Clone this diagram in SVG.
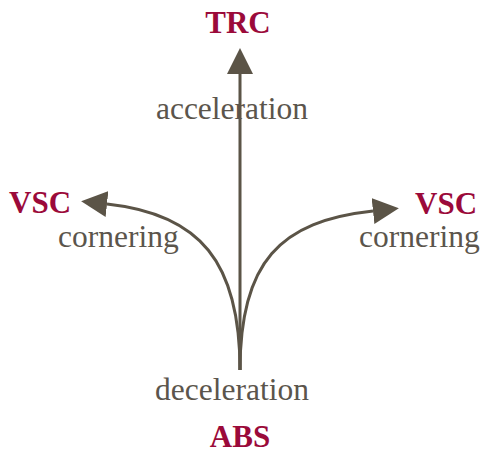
<svg xmlns="http://www.w3.org/2000/svg" width="482" height="452" viewBox="0 0 482 452">
  <style>
    .sys { font-family: "Liberation Serif", "Times New Roman", serif; font-size: 31px; font-weight: bold; fill: #9b0a3a; }
    .lbl { font-family: "Liberation Serif", "Times New Roman", serif; font-size: 31.5px; fill: #5b554c; }
    .edge { fill: none; stroke: #5b5447; stroke-width: 3; }
  </style>
  <defs>
    <marker id="head" viewBox="0 0 26 26" refX="0" refY="13" markerWidth="26" markerHeight="26" markerUnits="userSpaceOnUse" orient="auto">
      <path d="M0,0 L26,13 L0,26 z" fill="#5b5447"/>
    </marker>
  </defs>
  <rect width="482" height="452" fill="#ffffff"/>

  <g id="connectors">
    <path class="edge" d="M240,370 L240,74" marker-end="url(#head)"/>
    <path class="edge" d="M240,370 C240,262 200,214 107,204" marker-end="url(#head)"/>
    <path class="edge" d="M240,370 C240,262 280,221 373,211" marker-end="url(#head)"/>
  </g>

  <g id="trc">
    <text class="sys" x="238" y="33" text-anchor="middle">TRC</text>
    <text class="lbl" x="232" y="119" text-anchor="middle">acceleration</text>
  </g>
  <g id="vsc-left">
    <text class="sys" x="9" y="213">VSC</text>
    <text class="lbl" x="58" y="247">cornering</text>
  </g>
  <g id="vsc-right">
    <text class="sys" x="415" y="214">VSC</text>
    <text class="lbl" x="359" y="247">cornering</text>
  </g>
  <g id="abs">
    <text class="lbl" x="232" y="400" text-anchor="middle">deceleration</text>
    <text class="sys" x="240" y="447" text-anchor="middle">ABS</text>
  </g>
</svg>
